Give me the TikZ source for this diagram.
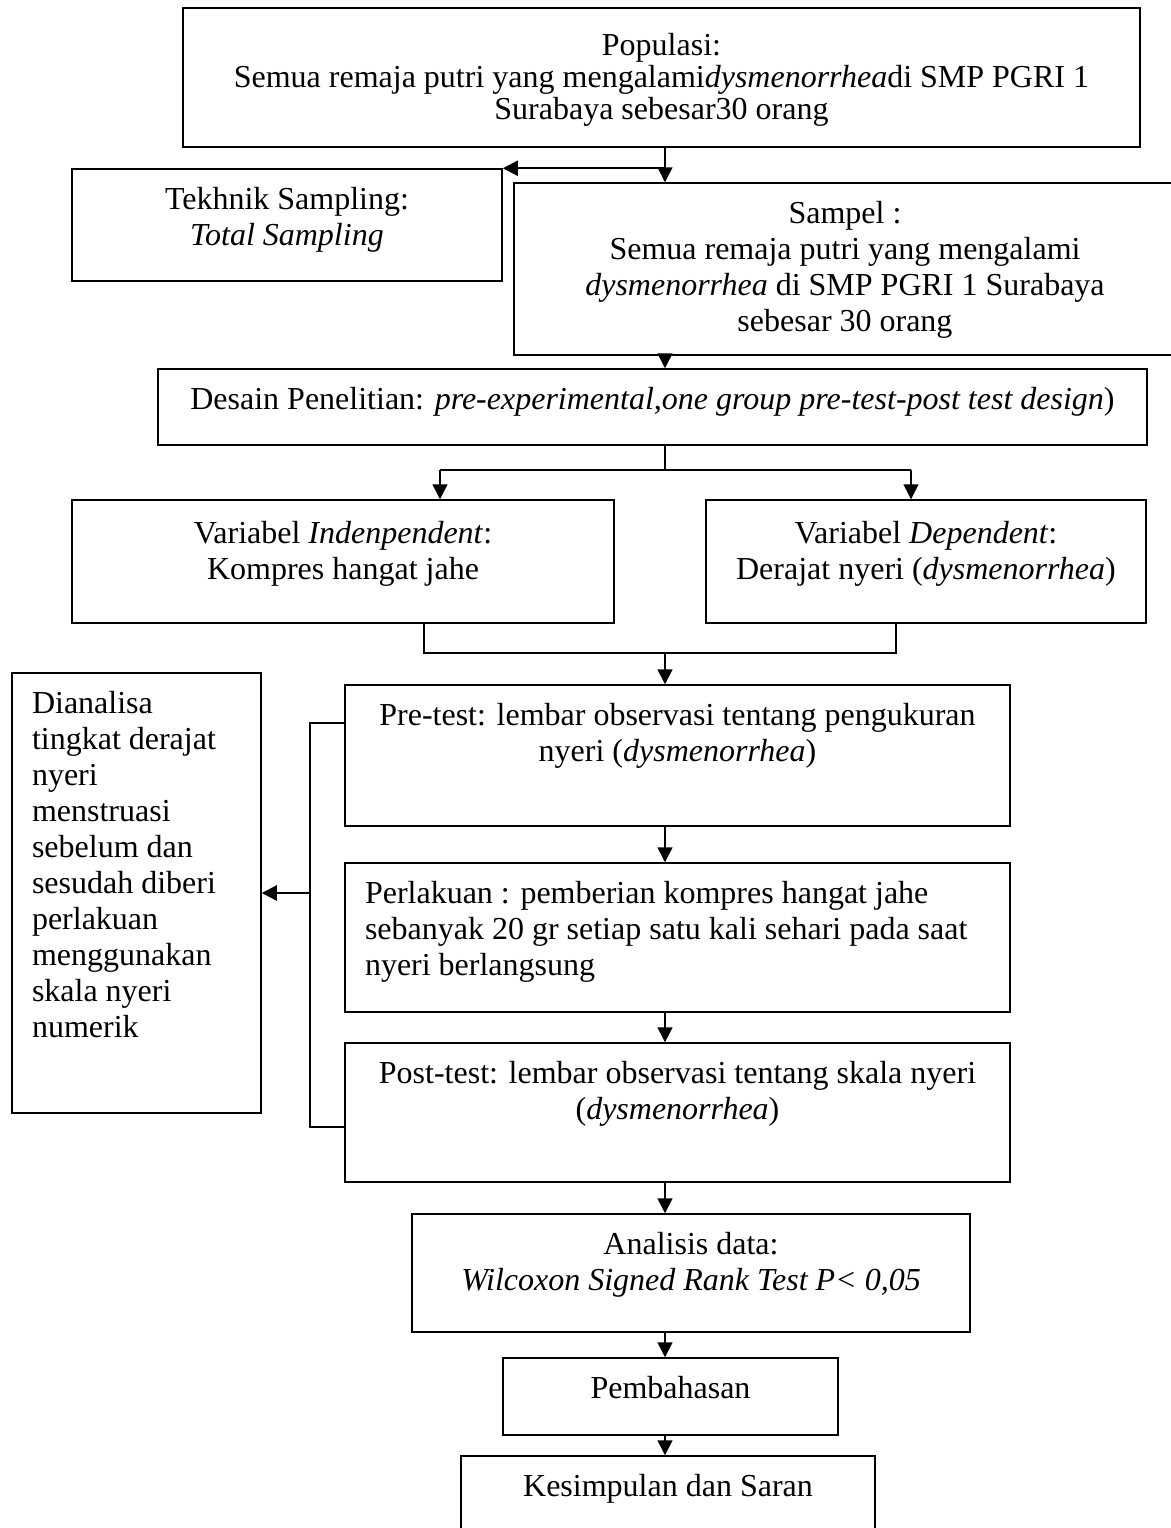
\documentclass[tikz,border=0pt]{standalone}
\usepackage{fontspec}
\setmainfont{Liberation Serif}
\usetikzlibrary{arrows.meta}
\tikzstyle{box}=[draw,line width=0.75pt,inner sep=0pt,font=\fontsize{16pt}{18pt}\selectfont]
\tikzstyle{tightbox}=[box,font=\fontsize{16pt}{16pt}\selectfont]
\tikzstyle{edge} = [draw,line width=0.75pt,-{Triangle[length=7.5pt,width=7.5pt]}]
\tikzstyle{thickedge} = [draw,line width=1.1pt,-{Triangle[length=7.5pt,width=7.5pt]}]
\tikzstyle{line} = [draw,line width=0.75pt]
% box text: [top] {width} {height} {text}
\newcommand{\boxtxt}[4][20pt]{\parbox[c][#3pt][t]{#2pt}{\centering\rule{0pt}{#1}#4\par}}
\newcommand{\boxtxtl}[4][20pt]{\parbox[c][#3pt][t]{#2pt}{\raggedright\leftskip=10pt\rule{0pt}{#1}#4\par}}

\begin{document}
\begin{tikzpicture}[x=0.5pt,y=-0.5pt]
    \useasboundingbox (0,0) rectangle (1171,1528);
    \coordinate (spine) at (665,0);

    % First we draw the boxes
    \node[tightbox] (pop) at (661.5,77.5) {\boxtxt[23.5pt]{478.5}{69.5}{Populasi:\\ Semua remaja putri yang mengalami\textit{dysmenorrhea}di SMP PGRI 1\\ Surabaya sebesar30 orang}};
    \node[box] (tek) at (287,225) {\boxtxt{215}{56}{Tekhnik Sampling:\\ \textit{Total Sampling}}};
    \node[box] (sam) at (845,269) {\boxtxt{331}{86}{Sampel :\\ Semua remaja putri yang mengalami\\ \textit{dysmenorrhea} di SMP PGRI 1 Surabaya\\ sebesar 30 orang}};
    \node[box] (des) at (652.5,407) {\boxtxt{494.5}{38}{Desain Penelitian: \textit{pre-experimental,one group pre-test-post test design})}};
    \node[box] (ind) at (343,561.5) {\boxtxt[21.5pt]{271}{61.5}{Variabel \textit{Indenpendent}:\\ Kompres hangat jahe}};
    \node[box] (dep) at (926,561.5) {\boxtxt[21.5pt]{220}{61.5}{Variabel \textit{Dependent}:\\ Derajat nyeri (\textit{dysmenorrhea})}};
    \node[box] (ana) at (136.5,893) {\boxtxtl{124.5}{220}{Dianalisa\\ tingkat derajat\\ nyeri\\ menstruasi\\ sebelum dan\\ sesudah diberi\\ perlakuan\\ menggunakan\\ skala nyeri\\ numerik}};
    \node[box] (pre) at (677.5,755.5) {\boxtxt{332.5}{70.5}{Pre-test: lembar observasi tentang pengukuran\\ nyeri (\textit{dysmenorrhea})}};
    \node[box] (per) at (677.5,937.5) {\boxtxtl{332.5}{74.5}{Perlakuan : pemberian kompres hangat jahe\\ sebanyak 20 gr setiap satu kali sehari pada saat\\ nyeri berlangsung}};
    \node[box] (pos) at (677.5,1112.5) {\boxtxt{332.5}{69.5}{Post-test: lembar observasi tentang skala nyeri\\ (\textit{dysmenorrhea})}};
    \node[box] (anl) at (691,1273) {\boxtxt{279}{59}{Analisis data:\\ \textit{Wilcoxon Signed Rank Test P< 0,05}}};
    \node[box] (pem) at (670.5,1396.5) {\boxtxt{167.5}{38.5}{Pembahasan}};
    \node[box] (kes) at (668,1494) {\boxtxt{207}{38}{Kesimpulan dan Saran}};

    % Connect boxes
    \path[edge] (pop.south -| spine) -- (sam.north -| spine);
    \path[thickedge] (spine |- tek.north) -- (tek.north east);
    \foreach \source/ \dest in {sam/des, pre/per, per/pos, pos/anl, anl/pem, pem/kes}
        \path[edge] (\source.south -| spine) -- (\dest.north -| spine);

    % split to the two variables
    \coordinate (brL) at (440,470);
    \coordinate (brR) at (911,470);
    \path[line] (des.south -| spine) -- (spine |- brL);
    \path[line] (brL) -- (brR);
    \path[edge] (brL) -- (brL |- ind.north);
    \path[edge] (brR) -- (brR |- dep.north);

    % join the two variables
    \coordinate (jL) at (424,653);
    \coordinate (jR) at (896,653);
    \path[line] (jL |- ind.south) -- (jL) -- (jR) -- (jR |- dep.south);
    \path[edge] (spine |- jL) -- (pre.north -| spine);

    % bracket to the analysis box
    \coordinate (lt) at (310,723);
    \coordinate (lb) at (310,1127);
    \path[line] (lt -| pre.west) -- (lt) -- (lb) -- (lb -| pre.west);
    \path[thickedge] (lt |- ana.east) -- (ana.east);
\end{tikzpicture}
\end{document}
